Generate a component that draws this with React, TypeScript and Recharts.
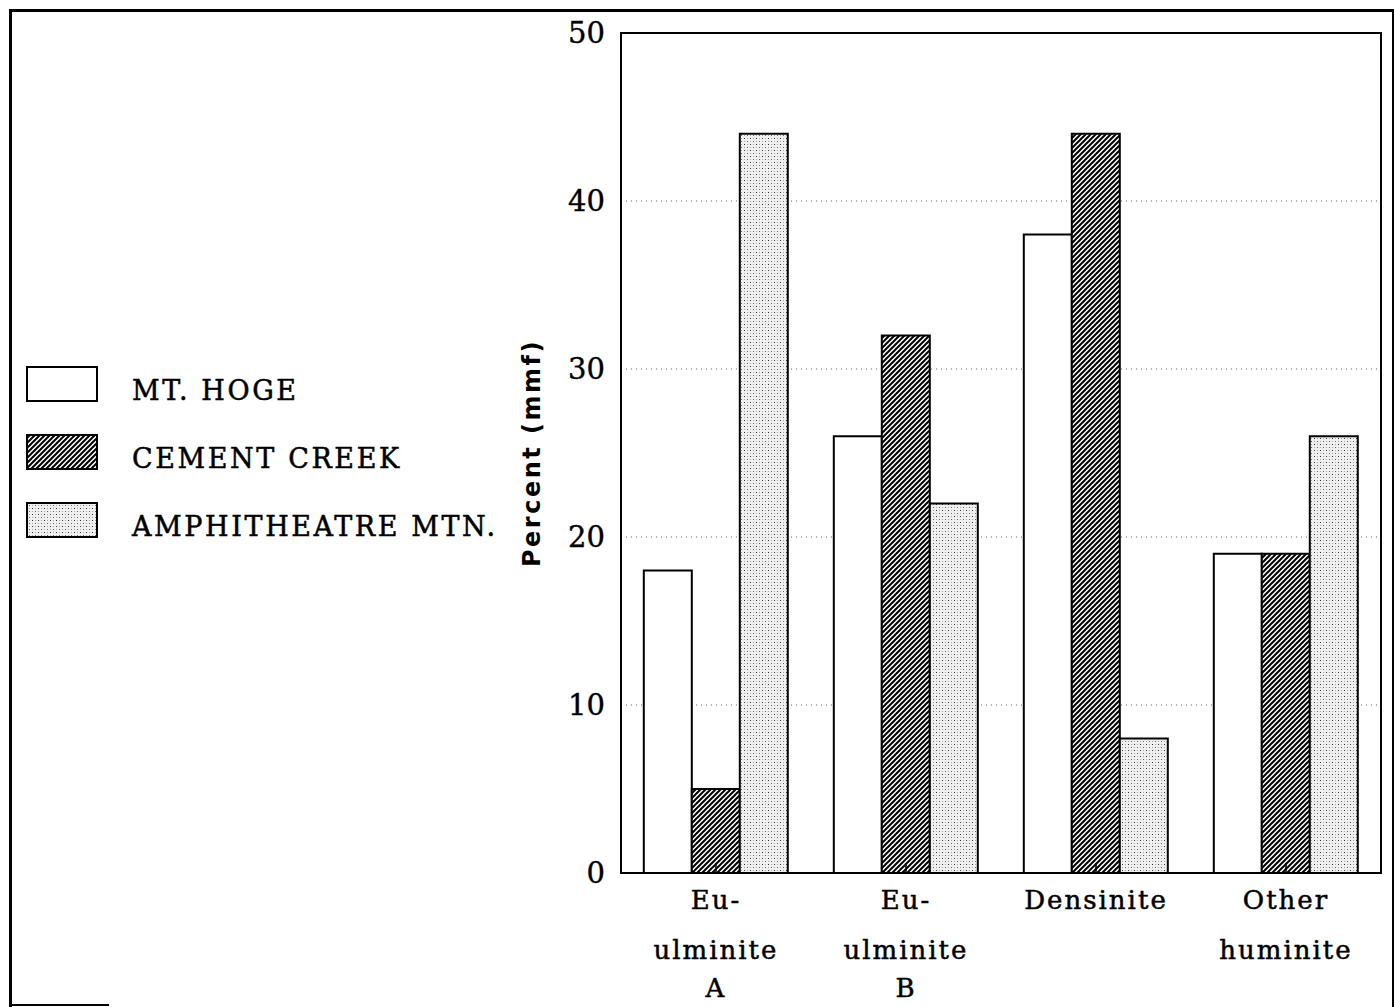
import React from "react";
import {
  BarChart,
  Bar,
  XAxis,
  YAxis,
  CartesianGrid,
  ReferenceArea,
  Legend,
} from "recharts";

const categories = [
  "Eu-\nulminite\nA",
  "Eu-\nulminite\nB",
  "Densinite",
  "Other\nhuminite",
];
const mtHoge = [18, 26, 38, 19];
const cementCreek = [5, 32, 44, 19];
const amphitheatre = [44, 22, 8, 26];
const yTicks = [0, 10, 20, 30, 40, 50];

const series = [
  { key: "mtHoge", name: "MT. HOGE", fill: "#ffffff" },
  { key: "cementCreek", name: "CEMENT CREEK", fill: "url(#hatch)" },
  { key: "amphitheatre", name: "AMPHITHEATRE MTN.", fill: "url(#dots)" },
];

const data = categories.map((c, i) => ({
  category: c,
  mtHoge: mtHoge[i],
  cementCreek: cementCreek[i],
  amphitheatre: amphitheatre[i],
}));

const serif = "'DejaVu Serif', serif";
const lineOffsets = [36, 50, 38];

function CategoryTick(props: any) {
  const { x, y, payload } = props;
  const lines = String(payload.value).split("\n");
  return (
    <g>
      <line x1={x} y1={y} x2={x} y2={y - 10} stroke="#000" strokeWidth={1.5} />
      <text
        x={x}
        y={y}
        textAnchor="middle"
        fontFamily={serif}
        fontSize={26}
        letterSpacing={2}
        fill="#000"
        stroke="#000"
        strokeWidth={0.5}
      >
        {lines.map((l, i) => (
          <tspan key={i} x={x} dy={lineOffsets[i]}>
            {l}
          </tspan>
        ))}
      </text>
    </g>
  );
}

function AxisTitle(props: any) {
  const { viewBox } = props;
  const cx = viewBox.x + viewBox.width - 89;
  const cy = viewBox.y + viewBox.height / 2;
  return (
    <text
      x={cx}
      y={cy}
      transform={`rotate(-90 ${cx} ${cy})`}
      textAnchor="middle"
      dominantBaseline="central"
      fontFamily="'DejaVu Sans', sans-serif"
      fontWeight="bold"
      fontSize={24}
      letterSpacing={2.5}
      fill="#000"
    >
      Percent (mmf)
    </text>
  );
}

function LegendBox() {
  return (
    <div style={{ position: "relative", height: 0 }}>
      {series.map((s, i) => (
        <div
          key={s.key}
          style={{
            position: "absolute",
            left: 0,
            top: i * 68,
            display: "flex",
            alignItems: "center",
            whiteSpace: "nowrap",
          }}
        >
          <svg width={72} height={36}>
            <rect x={1} y={1} width={70} height={34} fill={s.fill} stroke="#000" strokeWidth={2} />
          </svg>
          <span
            style={{
              marginLeft: 34,
              position: "relative",
              top: 6,
              fontFamily: serif,
              fontSize: 27,
              letterSpacing: 2.6,
              color: "#000",
              WebkitTextStroke: "0.5px #000",
            }}
          >
            {s.name}
          </span>
        </div>
      ))}
    </div>
  );
}

export default function App() {
  return (
    <div
      style={{
        position: "absolute",
        left: 0,
        top: 0,
        width: 1394,
        height: 1007,
        background: "#fff",
        overflow: "hidden",
      }}
    >
      <div
        style={{
          position: "absolute",
          left: 9,
          top: 9,
          width: 1380,
          height: 1100,
          borderLeft: "3px solid #000",
          borderTop: "3px solid #000",
          borderRight: "3px solid #000",
        }}
      />
      <div
        style={{
          position: "absolute",
          left: 9,
          top: 1004,
          width: 100,
          height: 2,
          background: "#000",
        }}
      />
      <BarChart
        width={1394}
        height={1007}
        data={data}
        margin={{ top: 33, right: 13, bottom: 104, left: 0 }}
        barCategoryGap="12%"
        barGap={0}
      >
        <defs>
          <pattern id="hatch" patternUnits="userSpaceOnUse" width={5} height={5}>
            <rect width={5} height={5} fill="#fff" />
            <path d="M-1,1 l2,-2 M0,5 l5,-5 M4,6 l2,-2" stroke="#000" strokeWidth={2} />
          </pattern>
          <pattern id="dots" patternUnits="userSpaceOnUse" width={6} height={6}>
            <rect width={6} height={6} fill="#f0f0f0" />
            <rect x={0} y={0} width={1} height={1} fill="#333" />
            <rect x={3} y={3} width={1} height={1} fill="#666" />
            <rect x={3} y={0} width={1} height={1} fill="#aaa" />
            <rect x={0} y={3} width={1} height={1} fill="#aaa" />
          </pattern>
        </defs>
        <CartesianGrid
          vertical={false}
          stroke="#666"
          strokeDasharray="1 4"
        />
        <XAxis
          dataKey="category"
          height={30}
          axisLine={false}
          tickLine={false}
          tickSize={0}
          tickMargin={0}
          interval={0}
          tick={<CategoryTick />}
        />
        <YAxis
          domain={[0, 50]}
          ticks={yTicks}
          width={621}
          axisLine={false}
          tickLine={false}
          tickSize={0}
          tickMargin={16}
          tick={{ fontFamily: serif, fontSize: 29, fill: "#000", stroke: "#000", strokeWidth: 0.4 }}
          label={<AxisTitle />}
        />
        <Legend
          verticalAlign="top"
          align="left"
          wrapperStyle={{ left: 26, top: 366, width: 500, height: 0 }}
          content={() => <LegendBox />}
        />
        {series.map((s) => (
          <Bar
            key={s.key}
            dataKey={s.key}
            name={s.name}
            fill={s.fill}
            stroke="#000"
            strokeWidth={2}
            isAnimationActive={false}
          />
        ))}
        <ReferenceArea
          y1={0}
          y2={50}
          fill="none"
          stroke="#000"
          strokeWidth={2}
          ifOverflow="visible"
        />
      </BarChart>
    </div>
  );
}
